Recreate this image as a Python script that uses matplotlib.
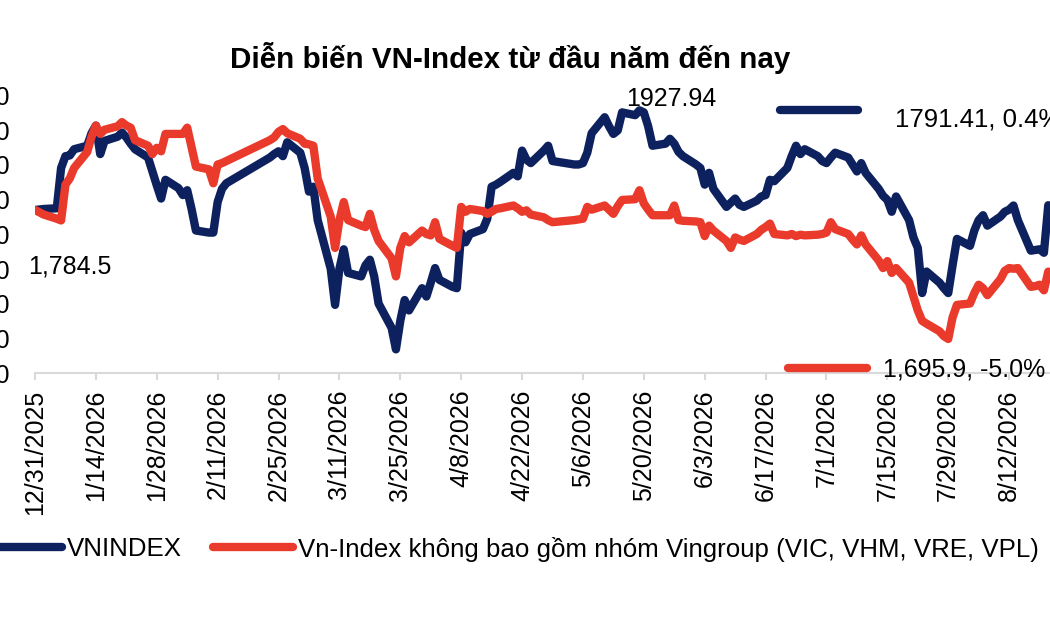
import pandas as pd
import matplotlib.pyplot as plt
from matplotlib.lines import Line2D

plt.rcParams['font.family'] = ['Liberation Sans', 'DejaVu Sans']

# VNINDEX
vn_dates = ['2025-12-31', '2026-01-02', '2026-01-05', '2026-01-06', '2026-01-07', '2026-01-08', '2026-01-09',
            '2026-01-12', '2026-01-13', '2026-01-14', '2026-01-15', '2026-01-16', '2026-01-19', '2026-01-20',
            '2026-01-21', '2026-01-22', '2026-01-23', '2026-01-26', '2026-01-27', '2026-01-28', '2026-01-29',
            '2026-01-30', '2026-02-02', '2026-02-03', '2026-02-04', '2026-02-05', '2026-02-06', '2026-02-09',
            '2026-02-10', '2026-02-11', '2026-02-12', '2026-02-13', '2026-02-23', '2026-02-24', '2026-02-25',
            '2026-02-26', '2026-02-27', '2026-03-02', '2026-03-03', '2026-03-04', '2026-03-05', '2026-03-06',
            '2026-03-09', '2026-03-10', '2026-03-11', '2026-03-12', '2026-03-13', '2026-03-16', '2026-03-17',
            '2026-03-18', '2026-03-19', '2026-03-20', '2026-03-23', '2026-03-24', '2026-03-25', '2026-03-26',
            '2026-03-27', '2026-03-30', '2026-03-31', '2026-04-01', '2026-04-02', '2026-04-03', '2026-04-06',
            '2026-04-07', '2026-04-08', '2026-04-09', '2026-04-10', '2026-04-13', '2026-04-14', '2026-04-15',
            '2026-04-16', '2026-04-17', '2026-04-20', '2026-04-21', '2026-04-22', '2026-04-23', '2026-04-24',
            '2026-04-27', '2026-04-28', '2026-04-29', '2026-05-04', '2026-05-05', '2026-05-06', '2026-05-07',
            '2026-05-08', '2026-05-11', '2026-05-12', '2026-05-13', '2026-05-14', '2026-05-15', '2026-05-18',
            '2026-05-19', '2026-05-20', '2026-05-21', '2026-05-22', '2026-05-25', '2026-05-26', '2026-05-27',
            '2026-05-28', '2026-05-29', '2026-06-01', '2026-06-02', '2026-06-03', '2026-06-04', '2026-06-05',
            '2026-06-08', '2026-06-09', '2026-06-10', '2026-06-11', '2026-06-12', '2026-06-15', '2026-06-16',
            '2026-06-17', '2026-06-18', '2026-06-19', '2026-06-22', '2026-06-23', '2026-06-24', '2026-06-25',
            '2026-06-26', '2026-06-29', '2026-06-30', '2026-07-01', '2026-07-02', '2026-07-03', '2026-07-06',
            '2026-07-07', '2026-07-08', '2026-07-09', '2026-07-10', '2026-07-13', '2026-07-14', '2026-07-15',
            '2026-07-16', '2026-07-17', '2026-07-20', '2026-07-21', '2026-07-22', '2026-07-23', '2026-07-24',
            '2026-07-27', '2026-07-28', '2026-07-29', '2026-07-30', '2026-07-31', '2026-08-03', '2026-08-04',
            '2026-08-05', '2026-08-06', '2026-08-07', '2026-08-10', '2026-08-11', '2026-08-12', '2026-08-13',
            '2026-08-14', '2026-08-17', '2026-08-18', '2026-08-19', '2026-08-20', '2026-08-21']
vnindex = [1784.5, 1786, 1787, 1845, 1862, 1863, 1872,
           1877, 1895, 1906, 1865, 1884, 1890, 1896,
           1889, 1880, 1872, 1860, 1840, 1820, 1801,
           1828, 1816, 1806, 1813, 1786, 1755, 1752,
           1752, 1796, 1815, 1823, 1860, 1865, 1869,
           1862, 1882, 1867, 1845, 1811, 1818, 1770,
           1700, 1648, 1700, 1728, 1694, 1689, 1705,
           1713, 1689, 1650, 1615, 1584, 1625, 1655,
           1640, 1672, 1660, 1680, 1701, 1684, 1674,
           1672, 1752, 1738, 1750, 1757, 1772, 1818,
           1821, 1825, 1838, 1833, 1870, 1857, 1852,
           1870, 1877, 1855, 1850, 1850, 1852, 1867,
           1895, 1918, 1905, 1894, 1899, 1925, 1921,
           1927.94, 1925, 1905, 1877, 1880, 1887, 1880,
           1868, 1862, 1850, 1845, 1821, 1838, 1815,
           1789, 1795, 1801, 1792, 1789, 1798, 1804,
           1806, 1828, 1826, 1845, 1862, 1877, 1865,
           1872, 1862, 1855, 1852, 1860, 1867, 1860,
           1850, 1840, 1852, 1838, 1815, 1805, 1799,
           1782, 1804, 1770, 1745, 1730, 1665, 1696,
           1680, 1672, 1665, 1705, 1743, 1733, 1755,
           1770, 1777, 1762, 1775, 1782, 1785, 1791,
           1770, 1726, 1727, 1728, 1723, 1791.41]

# Vn-Index excluding Vingroup
ex_dates = vn_dates
ex_vingroup = [1784.5, 1778, 1772, 1769.5, 1821, 1830, 1845,
               1868, 1890, 1906, 1894, 1900, 1905, 1911,
               1906, 1903, 1885, 1877, 1865, 1874, 1869,
               1894, 1894, 1894, 1903, 1875, 1847, 1843,
               1823, 1850, 1852, 1855, 1885, 1889, 1897,
               1901, 1895, 1887, 1880, 1879, 1877, 1830,
               1775, 1730, 1770, 1796, 1770, 1762, 1760,
               1779, 1756, 1740, 1715, 1689, 1730, 1747,
               1738, 1755, 1750, 1748, 1767, 1743, 1733,
               1730, 1789, 1782, 1786, 1783, 1779, 1782,
               1786, 1787, 1791, 1787, 1782, 1784, 1778,
               1774, 1770, 1767, 1770, 1771, 1772, 1789,
               1785, 1791, 1785, 1779, 1790, 1799, 1800,
               1813, 1794, 1785, 1777, 1777, 1777, 1791,
               1770, 1769, 1768, 1767, 1747, 1762, 1755,
               1740, 1730, 1745, 1742, 1740, 1750, 1756,
               1760, 1765, 1750, 1748, 1750, 1747, 1749,
               1748, 1749, 1750, 1752, 1767, 1757, 1750,
               1742, 1735, 1748, 1735, 1712, 1701, 1711,
               1694, 1701, 1680, 1660, 1640, 1625, 1621,
               1610, 1603, 1599, 1630, 1648, 1650, 1665,
               1677, 1672, 1662, 1685, 1697, 1701, 1700,
               1701, 1674, 1675, 1677, 1669, 1695.9]

labels = ['VNINDEX', 'Vn-Index không bao gồm nhóm Vingroup (VIC, VHM, VRE, VPL)']
blue = '#0c215e'
red = '#ea3a2b'

vn_d = pd.to_datetime(vn_dates)
ex_d = pd.to_datetime(ex_dates)

fig = plt.figure(figsize=(10.5, 6.3), dpi=100)
ax = fig.add_axes([35 / 1050, 1 - 373 / 630, 1015 / 1050, 278 / 630])

l1, = ax.plot(vn_d, vnindex, color=blue, lw=6, solid_joinstyle='round', solid_capstyle='round')
l2, = ax.plot(ex_d, ex_vingroup, color=red, lw=6, solid_joinstyle='round', solid_capstyle='round')

start = pd.Timestamp('2025-12-31')
ax.set_xlim(start, start + pd.Timedelta(days=233.4))
ax.set_ylim(1550, 1950)
ax.set_yticks(range(1550, 1951, 50))
ax.set_yticklabels(['{:,}'.format(v) for v in range(1550, 1951, 50)])

xt = pd.date_range('2025-12-31', '2026-08-12', freq='14D')
ax.set_xticks(xt)
ax.set_xticklabels([f'{d.month}/{d.day}/{d.year}' for d in xt], rotation=90, va='top', ha='center')
ax.tick_params(axis='x', labelsize=18, length=5, width=1.5, color='#d9d9d9', pad=7)
ax.tick_params(axis='y', labelsize=18, length=0, pad=18)
for s in ['top', 'right', 'left']:
    ax.spines[s].set_visible(False)
ax.spines['bottom'].set_color('#d9d9d9')
ax.spines['bottom'].set_linewidth(1.5)

# labels
ax.annotate('1,784.5', xy=(vn_d[0], vnindex[0]), xytext=(25, -41), textcoords='offset points',
            ha='center', va='center', fontsize=18)
imax = vnindex.index(max(vnindex))
ax.annotate(f'{max(vnindex):.2f}', xy=(vn_d[imax], vnindex[imax]), xytext=(23, 8), textcoords='offset points',
            ha='center', va='center', fontsize=18)

fig.add_artist(Line2D([780 / 1050, 858 / 1050], [1 - 110 / 630] * 2, color=blue, lw=6,
                      solid_capstyle='round', transform=fig.transFigure))
fig.text(895 / 1050, 1 - 120 / 630, f'{vnindex[-1]:.2f}, 0.4%', fontsize=18.5, va='center', ha='left')
fig.add_artist(Line2D([788 / 1050, 867 / 1050], [1 - 368 / 630] * 2, color=red, lw=6,
                      solid_capstyle='round', transform=fig.transFigure))
fig.text(883 / 1050, 1 - 370 / 630, f'{ex_vingroup[-1]:,.1f}, -5.0%', fontsize=18, va='center', ha='left')

fig.text(510 / 1050, 1 - 58 / 630, 'Diễn biến VN-Index từ đầu năm đến nay', fontsize=21.3,
         fontweight='bold', ha='center', va='center')

leg = fig.legend([l1, l2], labels, loc='center left', bbox_to_anchor=(-18 / 1050, 1 - 549 / 630), ncol=2,
                 frameon=False, fontsize=18.6, handlelength=3.1, handletextpad=0.2, columnspacing=1.2,
                 borderpad=0, borderaxespad=0)

fig.savefig('out.png', dpi=100)
